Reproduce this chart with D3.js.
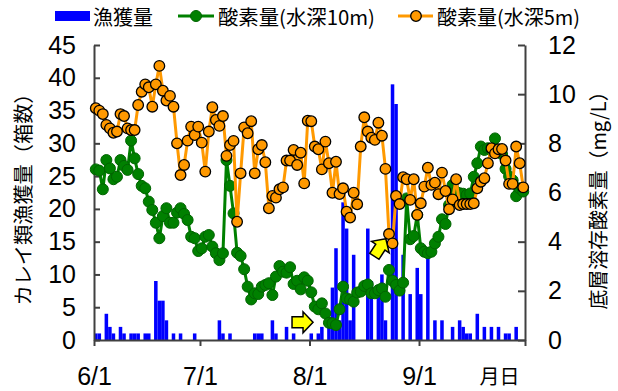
<!DOCTYPE html>
<html><head><meta charset="utf-8">
<script src="https://cdn.jsdelivr.net/npm/d3@7"></script>
<style>
html,body{margin:0;padding:0;background:#fff;}
svg{display:block;}
.num{font-family:"Liberation Sans Narrow","Arial Narrow","Liberation Sans",Arial,sans-serif;font-size:25px;fill:#000;}
.jp{font-family:"Noto Sans CJK JP","Noto Sans",sans-serif;fill:#000;}
</style></head>
<body><svg id="c" width="618" height="391"></svg>
<script>
// ---- data (6/1 .. 9/30, one value per day) ----
const nDays = 122;
const catchBoxes = [
1,1,0,4,2,1,0,2,1,0, 1,1,1,0,1,1,0,9,6,6,
3,0,1,0,1,0,0,0,1,0, 0,0,0,0,0,3,1,0,1,0,
0,0,0,0,0,1,1,1,0,0, 3,1,0,0,2,0,1,0,0,0,
0,1,0,1,2,0,3,8,14,3, 21,17,3,13,0,0,0,17,9,0,
7,10,3,0,39,36,0,13,0,7, 0,11,7,0,13,0,3,0,3,0,
0,2,0,3,2,1,1,0,4,0, 2,0,2,0,2,0,1,1,0,2,
0,0];
const oxygen10m = [
6.94,6.89,6.13,7.32,6.98,6.54,6.64,7.32,7.08,6.92,
8.11,7.39,6.75,6.27,6.17,5.63,5.29,4.77,4.14,5.04,
5.36,4.77,4.77,5.18,5.36,5.13,4.88,4.20,4.14,3.62,
3.73,4.20,4.27,3.80,3.53,3.25,3.53,7.32,6.27,5.15,
3.55,3.42,2.88,2.17,1.65,1.90,1.87,2.17,2.24,2.31,
1.83,2.58,3.01,2.78,2.74,2.96,2.28,2.41,2.06,2.55,
2.41,1.94,1.36,1.25,1.49,1.08,0.70,0.68,0.61,1.25,
2.17,1.69,1.65,1.56,1.93,1.97,2.20,2.26,1.90,1.90,
2.03,2.10,1.76,2.85,2.41,2.24,2.01,2.33,5.76,4.10,
4.23,5.09,3.73,3.59,3.53,3.59,3.93,4.20,4.91,4.72,
5.49,6.31,6.03,5.97,5.95,5.90,5.96,6.64,7.19,7.87,
7.73,7.80,7.70,8.20,7.70,7.56,6.96,6.66,6.50,5.85,
6.17,6.04];
const oxygen5m = [
9.43,9.33,9.19,8.75,8.61,8.43,8.48,9.19,9.11,8.61,
8.54,8.54,9.56,10.10,10.40,10.28,9.49,10.40,11.15,10.14,
9.74,9.93,9.49,8.00,6.71,7.12,8.11,8.68,8.34,8.68,
8.03,6.85,8.48,9.47,8.95,8.71,9.11,7.49,7.93,8.10,
4.81,6.78,8.65,8.41,8.90,6.78,7.76,7.93,7.23,5.36,
5.86,5.79,6.13,6.21,7.30,7.30,7.73,7.12,7.62,6.37,
8.92,8.90,7.87,7.76,6.94,8.07,7.19,5.99,7.25,5.94,
6.17,5.22,4.98,5.99,5.52,7.87,9.06,8.48,8.23,8.14,
8.84,8.31,6.96,4.31,3.93,5.86,5.53,6.62,6.54,5.70,
6.54,5.09,5.56,6.24,7.01,6.31,6.40,5.93,6.81,6.06,
5.32,5.72,6.54,5.49,5.53,5.53,5.53,5.56,6.17,6.44,
6.58,7.19,7.80,7.59,7.76,7.77,7.30,6.35,6.35,7.87,
7.19,6.21];
const xTickIdx = [0, 30, 61, 92, 122];
const xTickLabels = ["6/1", "7/1", "8/1", "9/1", "月日"];
const leftTicks = [0,5,10,15,20,25,30,35,40,45];
const rightTicks = [0,2,4,6,8,10,12];
const seriesNames = ["漁獲量", "酸素量(水深10m)", "酸素量(水深5m)"];
const leftTitle = "カレイ類漁獲量（箱数）";
const rightTitle = "底層溶存酸素量（mg/L）";
// annotation arrows: [day, mg/L, angle]
const arrows = [[62.0, 0.72, 0], [82.6, 4.12, -57]];

// ---- chart ----
const svg = d3.select("#c");
const L = 94, R = 525, T = 45, B = 340;
const x = d3.scaleLinear().domain([0, nDays]).range([L, R]);
const yL = d3.scaleLinear().domain([0, 45]).range([B, T]);
const yR = d3.scaleLinear().domain([0, 12]).range([B, T]);

const BLUE = "#0000FF", GREEN = "#008000", ORANGE = "#FF9900";

// bars
svg.append("g").selectAll("rect")
  .data(catchBoxes.map((v, i) => ({v, i})).filter(d => d.v > 0))
  .join("rect")
  .attr("x", d => x(d.i))
  .attr("width", d => x(d.i + 1) - x(d.i))
  .attr("y", d => yL(d.v))
  .attr("height", d => yL(0) - yL(d.v))
  .attr("fill", BLUE);

// axes
const axisColor = "#404040";
function styleAxis(g) {
  g.selectAll("path,line").attr("stroke", axisColor).attr("stroke-width", 2);
  g.selectAll("text").attr("class", "num").attr("font-size", null).attr("font-family", null);
}
const gL = svg.append("g").attr("transform", `translate(${L},0)`)
  .call(d3.axisLeft(yL).tickValues(leftTicks).tickSizeInner(-6).tickSizeOuter(0).tickPadding(18));
styleAxis(gL);
const gR = svg.append("g").attr("transform", `translate(${R},0)`)
  .call(d3.axisRight(yR).tickValues(rightTicks).tickSizeInner(-7).tickSizeOuter(0).tickPadding(23));
styleAxis(gR);
const gB = svg.append("g").attr("transform", `translate(0,${B})`)
  .call(d3.axisBottom(x).tickValues(xTickIdx).tickFormat((d, i) => xTickLabels[i]).tickSize(6).tickSizeOuter(0).tickPadding(21));
styleAxis(gB);
gB.selectAll(".tick text").filter((d, i) => i === xTickIdx.length - 1)
  .attr("class", "jp").attr("font-size", 20).attr("text-anchor", "end").attr("dx", -6).attr("dy", "0.85em");

// lines
const line = d3.line().x((d, i) => x(i + 0.5)).y(d => yR(d));
svg.append("path").datum(oxygen10m).attr("d", line)
  .attr("fill", "none").attr("stroke", GREEN).attr("stroke-width", 3).attr("stroke-linejoin", "round");
svg.append("g").selectAll("circle").data(oxygen10m).join("circle")
  .attr("cx", (d, i) => x(i + 0.5)).attr("cy", d => yR(d)).attr("r", 5.5)
  .attr("fill", GREEN).attr("stroke", "#006400").attr("stroke-width", 1);

svg.append("path").datum(oxygen5m).attr("d", line)
  .attr("fill", "none").attr("stroke", ORANGE).attr("stroke-width", 3).attr("stroke-linejoin", "round");
svg.append("g").selectAll("circle").data(oxygen5m).join("circle")
  .attr("cx", (d, i) => x(i + 0.5)).attr("cy", d => yR(d)).attr("r", 5.3)
  .attr("fill", ORANGE).attr("stroke", "#000").attr("stroke-width", 1.3);

// arrows
const arrowPath = "M0,0 L-10,-10.5 L-10,-5.5 L-21,-5.5 L-21,5.5 L-10,5.5 L-10,10.5 Z";
svg.append("g").selectAll("path").data(arrows).join("path")
  .attr("d", arrowPath)
  .attr("transform", d => `translate(${x(d[0])},${yR(d[1])}) rotate(${d[2]})`)
  .attr("fill", "#FFFF00").attr("stroke", "#000").attr("stroke-width", 1.5).attr("stroke-linejoin", "miter");

// legend
const lg = svg.append("g");
const ly = 16;
lg.append("rect").attr("x", 55).attr("y", 11).attr("width", 35).attr("height", 10).attr("fill", BLUE);
lg.append("text").attr("class", "jp").attr("x", 93).attr("y", ly).attr("dominant-baseline", "central")
  .attr("font-size", 20).text(seriesNames[0]);
lg.append("line").attr("x1", 178).attr("x2", 214).attr("y1", ly).attr("y2", ly).attr("stroke", GREEN).attr("stroke-width", 3);
lg.append("circle").attr("cx", 196).attr("cy", ly).attr("r", 5.5).attr("fill", GREEN).attr("stroke", "#006400");
lg.append("text").attr("class", "jp").attr("x", 218).attr("y", ly).attr("dominant-baseline", "central")
  .attr("font-size", 20).attr("textLength", 157).attr("lengthAdjust", "spacingAndGlyphs").text(seriesNames[1]);
lg.append("line").attr("x1", 398).attr("x2", 433).attr("y1", ly).attr("y2", ly).attr("stroke", ORANGE).attr("stroke-width", 3);
lg.append("circle").attr("cx", 416).attr("cy", ly).attr("r", 5.3).attr("fill", ORANGE).attr("stroke", "#000").attr("stroke-width", 1.3);
lg.append("text").attr("class", "jp").attr("x", 437).attr("y", ly).attr("dominant-baseline", "central")
  .attr("font-size", 20).attr("textLength", 143).attr("lengthAdjust", "spacingAndGlyphs").text(seriesNames[2]);

// axis titles
svg.append("text").attr("class", "jp").attr("font-size", 20)
  .attr("transform", `translate(22,${(T + B) / 2 + 2}) rotate(-90)`)
  .attr("text-anchor", "middle").attr("dominant-baseline", "central")
  .attr("textLength", 222).attr("lengthAdjust", "spacingAndGlyphs").text(leftTitle);
svg.append("text").attr("class", "jp").attr("font-size", 20)
  .attr("transform", `translate(597,${(T + B) / 2 + 3}) rotate(-90)`)
  .attr("text-anchor", "middle").attr("dominant-baseline", "central")
  .attr("textLength", 228).attr("lengthAdjust", "spacingAndGlyphs").text(rightTitle);
</script></body></html>
